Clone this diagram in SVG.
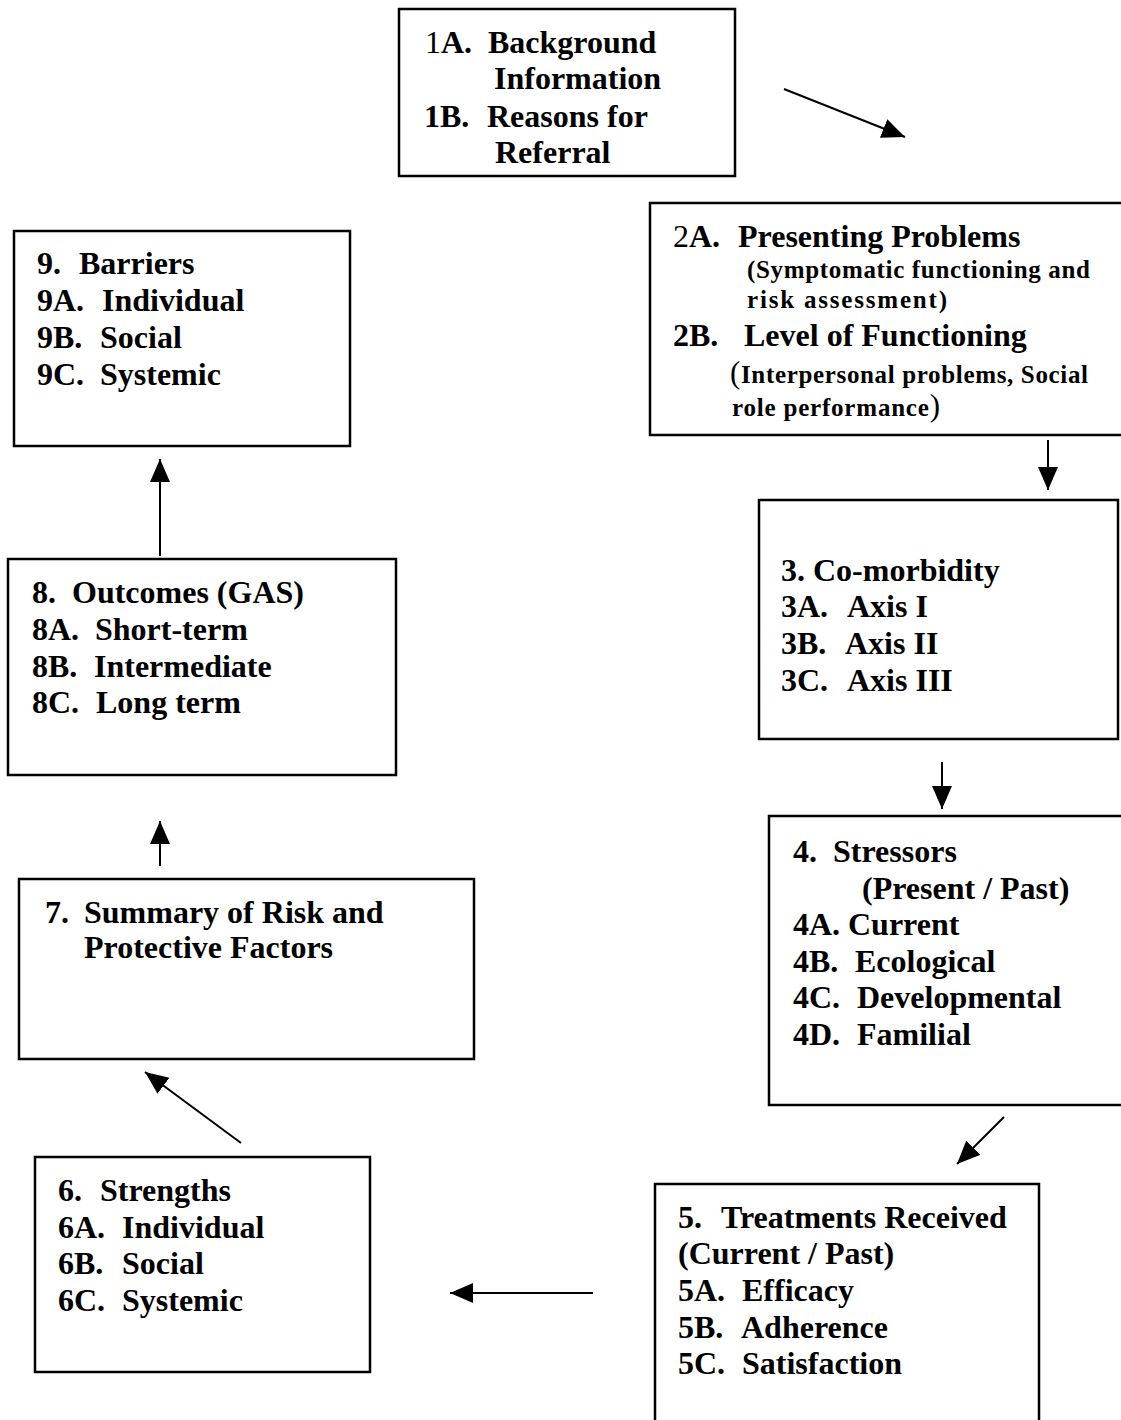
<svg xmlns="http://www.w3.org/2000/svg" width="1121" height="1420" viewBox="0 0 1121 1420">
<style>
  .box { fill: #fff; stroke: #000; stroke-width: 2.5; }
  .t { font-family: "Liberation Serif", "Times New Roman", serif; font-weight: bold; font-size: 32px; fill: #000; }
  .s { font-family: "Liberation Serif", "Times New Roman", serif; font-weight: bold; font-size: 25px; fill: #000; }
  .n { font-weight: normal; }
  .c { stroke: #000; stroke-width: 2; fill: none; marker-end: url(#ah); }
</style>
<defs>
  <marker id="ah" markerUnits="userSpaceOnUse" markerWidth="26" markerHeight="22" refX="23" refY="10" orient="auto">
    <path d="M0,0 L23,10 L0,20 z" fill="#000"/>
  </marker>
</defs>
<rect width="1121" height="1420" fill="#fff"/>

<g id="connectors">
  <line class="c" x1="784" y1="89" x2="905" y2="137"/>
  <line class="c" x1="1048" y1="440" x2="1048" y2="490"/>
  <line class="c" x1="942" y1="762" x2="942" y2="809"/>
  <line class="c" x1="1004" y1="1117" x2="957" y2="1164"/>
  <line class="c" x1="593" y1="1293" x2="450" y2="1293"/>
  <line class="c" x1="241" y1="1143" x2="145" y2="1072"/>
  <line class="c" x1="160" y1="866" x2="160" y2="821"/>
  <line class="c" x1="160" y1="556" x2="160" y2="459"/>
</g>

<g id="node1">
  <rect class="box" x="399" y="9" width="336" height="167"/>
  <text class="t" y="53"><tspan x="425"><tspan class="n">1</tspan>A.</tspan><tspan x="488">Background</tspan></text>
  <text class="t" x="494" y="89">Information</text>
  <text class="t" y="127"><tspan x="424">1B.</tspan><tspan x="487">Reasons for</tspan></text>
  <text class="t" x="495" y="163">Referral</text>
</g>

<g id="node2">
  <rect class="box" x="650" y="203" width="490" height="232"/>
  <text class="t" y="247"><tspan x="673"><tspan class="n">2</tspan>A.</tspan><tspan x="738">Presenting Problems</tspan></text>
  <text class="s" x="747" y="278" textLength="343">(Symptomatic functioning and</text>
  <text class="s" x="747" y="308" textLength="200">risk assessment)</text>
  <text class="t" y="346"><tspan x="673">2B.</tspan><tspan x="744">Level of Functioning</tspan></text>
  <text class="s" x="730" y="383" textLength="358"><tspan class="n" font-size="31">(</tspan>Interpersonal problems, Social</text>
  <text class="s" x="732" y="416" textLength="208">role performance<tspan class="n" font-size="31">)</tspan></text>
</g>

<g id="node3">
  <rect class="box" x="759" y="500" width="359" height="239"/>
  <text class="t" y="581"><tspan x="781">3.</tspan><tspan x="813">Co-morbidity</tspan></text>
  <text class="t" y="617"><tspan x="781">3A.</tspan><tspan x="847">Axis I</tspan></text>
  <text class="t" y="654"><tspan x="781">3B.</tspan><tspan x="845">Axis II</tspan></text>
  <text class="t" y="691"><tspan x="781">3C.</tspan><tspan x="847">Axis III</tspan></text>
</g>

<g id="node4">
  <rect class="box" x="769" y="816" width="370" height="289"/>
  <text class="t" y="862"><tspan x="793">4.</tspan><tspan x="833">Stressors</tspan></text>
  <text class="t" x="862" y="899">(Present / Past)</text>
  <text class="t" y="935"><tspan x="793">4A.</tspan><tspan x="848">Current</tspan></text>
  <text class="t" y="972"><tspan x="793">4B.</tspan><tspan x="855">Ecological</tspan></text>
  <text class="t" y="1008"><tspan x="793">4C.</tspan><tspan x="857">Developmental</tspan></text>
  <text class="t" y="1045"><tspan x="793">4D.</tspan><tspan x="857">Familial</tspan></text>
</g>

<g id="node5">
  <path class="box" d="M655,1430 L655,1184 L1039,1184 L1039,1430"/>
  <text class="t" y="1228"><tspan x="678">5.</tspan><tspan x="721">Treatments Received</tspan></text>
  <text class="t" x="678" y="1264">(Current / Past)</text>
  <text class="t" y="1301"><tspan x="678">5A.</tspan><tspan x="742">Efficacy</tspan></text>
  <text class="t" y="1338"><tspan x="678">5B.</tspan><tspan x="741">Adherence</tspan></text>
  <text class="t" y="1374"><tspan x="678">5C.</tspan><tspan x="742">Satisfaction</tspan></text>
</g>

<g id="node6">
  <rect class="box" x="35" y="1157" width="335" height="215"/>
  <text class="t" y="1201"><tspan x="58">6.</tspan><tspan x="100">Strengths</tspan></text>
  <text class="t" y="1238"><tspan x="58">6A.</tspan><tspan x="122">Individual</tspan></text>
  <text class="t" y="1274"><tspan x="58">6B.</tspan><tspan x="122">Social</tspan></text>
  <text class="t" y="1311"><tspan x="58">6C.</tspan><tspan x="122">Systemic</tspan></text>
</g>

<g id="node7">
  <rect class="box" x="19" y="879" width="455" height="180"/>
  <text class="t" y="923"><tspan x="45">7.</tspan><tspan x="84">Summary of Risk and</tspan></text>
  <text class="t" x="84" y="958">Protective Factors</text>
</g>

<g id="node8">
  <rect class="box" x="8" y="559" width="388" height="216"/>
  <text class="t" y="603"><tspan x="32">8.</tspan><tspan x="72">Outcomes (GAS)</tspan></text>
  <text class="t" y="640"><tspan x="32">8A.</tspan><tspan x="95">Short-term</tspan></text>
  <text class="t" y="677"><tspan x="32">8B.</tspan><tspan x="94">Intermediate</tspan></text>
  <text class="t" y="713"><tspan x="32">8C.</tspan><tspan x="96">Long term</tspan></text>
</g>

<g id="node9">
  <rect class="box" x="14" y="231" width="336" height="215"/>
  <text class="t" y="274"><tspan x="37">9.</tspan><tspan x="79">Barriers</tspan></text>
  <text class="t" y="311"><tspan x="37">9A.</tspan><tspan x="102">Individual</tspan></text>
  <text class="t" y="348"><tspan x="37">9B.</tspan><tspan x="100">Social</tspan></text>
  <text class="t" y="385"><tspan x="37">9C.</tspan><tspan x="100">Systemic</tspan></text>
</g>
</svg>
